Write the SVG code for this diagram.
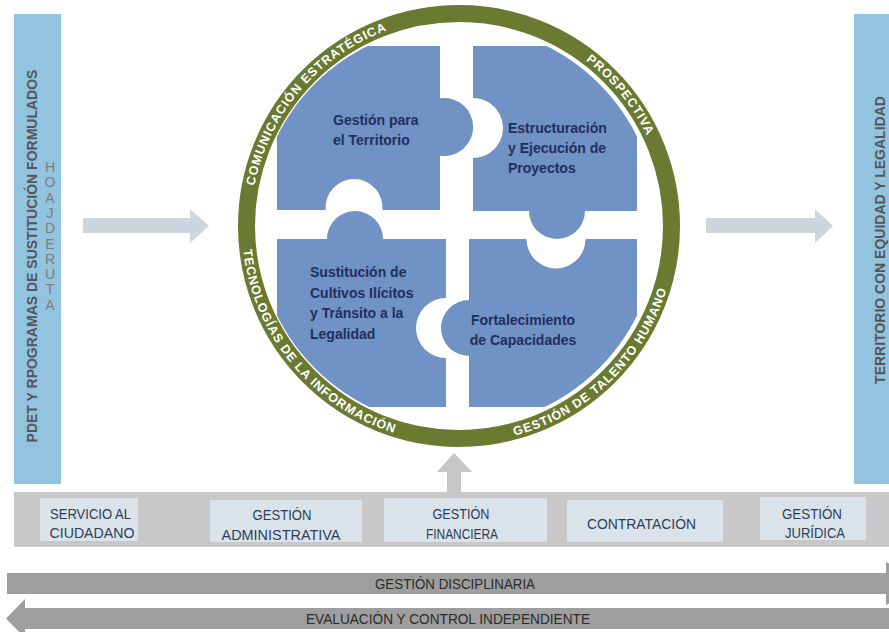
<svg xmlns="http://www.w3.org/2000/svg" width="889" height="632" viewBox="0 0 889 632">
<style>
.bar{fill:#92c4e0}
.bartxt{font-family:"Liberation Sans",Arial,sans-serif;font-weight:bold;font-size:14px;fill:#555}
.hoja{font-family:"Liberation Sans",Arial,sans-serif;font-size:14px;fill:#7d7d7d;text-anchor:middle}
.ring{fill:none;stroke:#6a7a30;stroke-width:17}
.ringtxt{font-family:"Liberation Sans",Arial,sans-serif;font-weight:bold;font-size:12.5px;fill:#fff;letter-spacing:0.9px}
.piece{fill:#7092c4}
.ptxt{font-family:"Liberation Sans",Arial,sans-serif;font-weight:bold;font-size:14px;fill:#1f2f5f}
.band{fill:#c8c8c8}
.box{fill:#dbe3ea}
.btxt{font-family:"Liberation Sans Narrow","Liberation Sans",Arial,sans-serif;font-size:14px;fill:#2c3d58;text-anchor:middle}
.harrow{fill:#cdd6de}
.garrow{fill:#c6c6c6}
.dbar{fill:#9e9e9e}
.dtxt{font-family:"Liberation Sans Narrow","Liberation Sans",Arial,sans-serif;font-size:14px;fill:#2b2b2b;text-anchor:middle}
</style>
<defs>
<clipPath id="disc"><circle cx="457" cy="226" r="201"/></clipPath>
<path id="arcCom" d="M250.5,224.2 A208.5,208.5 0 0 1 424.6,20.4"/>
<path id="arcPro" d="M533.7,31.3 A208.5,208.5 0 0 1 664.9,193.4"/>
<path id="arcTec" d="M243.0,205.2 A217,217 0 0 0 438.2,442.0"/>
<path id="arcGes" d="M474.1,442.5 A217,217 0 0 0 674.8,248.7"/>
</defs>
<rect width="889" height="632" fill="#fff"/>

<g id="left-bar">
<rect class="bar" x="14" y="14" width="47" height="470"/>
<text class="bartxt" transform="translate(37,256) rotate(-90)" text-anchor="middle">PDET Y RPOGRAMAS DE SUSTITUCIÓN FORMULADOS</text>
<text class="hoja" x="50 50 50 50 50 50 50 50 50 50 50 50" y="172 187.3 202.6 217.9 217.9 233.2 248.5 248.5 263.8 279.1 294.4 309.7">HOAJ DE RUTA</text>
</g>

<g id="right-bar">
<rect class="bar" x="854" y="14" width="35" height="470"/>
<text class="bartxt" transform="translate(885,240) rotate(-90)" text-anchor="middle">TERRITORIO CON EQUIDAD Y LEGALIDAD</text>
</g>

<g id="ring">
<circle class="ring" cx="459" cy="226" r="212.5"/>
<text class="ringtxt"><textPath href="#arcCom" startOffset="50%" text-anchor="middle">COMUNICACIÓN ESTRATÉGICA</textPath></text>
<text class="ringtxt"><textPath href="#arcPro" startOffset="50%" text-anchor="middle">PROSPECTIVA</textPath></text>
<text class="ringtxt"><textPath href="#arcTec" startOffset="50%" text-anchor="middle">TECNOLOGÍAS DE LA INFORMACIÓN</textPath></text>
<text class="ringtxt"><textPath href="#arcGes" startOffset="50%" text-anchor="middle">GESTIÓN DE TALENTO HUMANO</textPath></text>
</g>

<g clip-path="url(#disc)">
<g id="piece-territorio">
<path class="piece" d="M277,46 H440 V98.3 A29,29 0 1 1 440,155.7 V210 H382.4 A28.5,28.5 0 1 0 325.6,210 H277 Z"/>
</g>
<g id="piece-proyectos">
<path class="piece" d="M473,46 H637 V211 H585 A28,28 0 1 1 529,211 H473 V158 A30,30 0 1 0 473,98 Z"/>
</g>
<g id="piece-sustitucion">
<path class="piece" d="M277,239 H327 A28,28 0 1 1 383,239 H446 V298 A30,30 0 0 0 446,358 V407 H277 Z"/>
</g>
<g id="piece-capacidades">
<path class="piece" d="M469,239 H526.5 A29.5,29.5 0 1 0 585.5,239 H637 V407 H469 V356 A28,28 0 1 1 469,300 Z"/>
</g>
</g>
<g id="piece-labels">
<text class="ptxt" x="333" y="125">Gestión para</text>
<text class="ptxt" x="333" y="145">el Territorio</text>
<text class="ptxt" x="508" y="133">Estructuración</text>
<text class="ptxt" x="508" y="153">y Ejecución de</text>
<text class="ptxt" x="508" y="173">Proyectos</text>
<text class="ptxt" x="310" y="277">Sustitución de</text>
<text class="ptxt" x="310" y="297.5">Cultivos Ilícitos</text>
<text class="ptxt" x="310" y="318">y Tránsito a la</text>
<text class="ptxt" x="310" y="338.5">Legalidad</text>
<text class="ptxt" x="523" y="325" text-anchor="middle">Fortalecimiento</text>
<text class="ptxt" x="523" y="345" text-anchor="middle">de Capacidades</text>
</g>

<g id="support-band">
<rect class="band" x="14" y="492" width="875" height="55"/>
</g>
<g id="servicio">
<rect class="box" x="40" y="498" width="98" height="43"/>
<text class="btxt" x="90.5" y="518.5" textLength="81" lengthAdjust="spacingAndGlyphs">SERVICIO AL</text>
<text class="btxt" x="92" y="538" textLength="85" lengthAdjust="spacingAndGlyphs">CIUDADANO</text>
</g>
<g id="administrativa">
<rect class="box" x="210" y="500" width="152" height="42"/>
<text class="btxt" x="282" y="520" textLength="59" lengthAdjust="spacingAndGlyphs">GESTIÓN</text>
<text class="btxt" x="281" y="540" textLength="119" lengthAdjust="spacingAndGlyphs">ADMINISTRATIVA</text>
</g>
<g id="financiera">
<rect class="box" x="384" y="498" width="163" height="44"/>
<text class="btxt" x="461" y="518.5" textLength="57" lengthAdjust="spacingAndGlyphs">GESTIÓN</text>
<text class="btxt" x="462" y="538.5" textLength="72" lengthAdjust="spacingAndGlyphs">FINANCIERA</text>
</g>
<g id="contratacion">
<rect class="box" x="567" y="500" width="156" height="42"/>
<text class="btxt" x="641.5" y="529" textLength="109" lengthAdjust="spacingAndGlyphs">CONTRATACIÓN</text>
</g>
<g id="juridica">
<rect class="box" x="760" y="497" width="106" height="43"/>
<text class="btxt" x="812" y="518.5" textLength="60" lengthAdjust="spacingAndGlyphs">GESTIÓN</text>
<text class="btxt" x="815" y="538" textLength="60" lengthAdjust="spacingAndGlyphs">JURÍDICA</text>
</g>

<g id="connectors">
<polygon class="harrow" points="83,218 190,218 190,209 209,226 190,243 190,233 83,233"/>
<polygon class="harrow" points="706,218 815,218 815,209 833,226 815,243 815,233 706,233"/>
<polygon class="garrow" points="447,492 447,472 437,472 454,453 472,472 461,472 461,492"/>
</g>

<g id="disciplinaria">
<rect class="dbar" x="7" y="573" width="880" height="21"/>
<polygon class="dbar" points="886,562 930,583.5 886,605"/>
<text class="dtxt" x="455" y="589" textLength="160" lengthAdjust="spacingAndGlyphs">GESTIÓN DISCIPLINARIA</text>
</g>
<g id="evaluacion">
<rect class="dbar" x="25" y="608" width="864" height="21"/>
<polygon class="dbar" points="25,599 6,618.5 25,638"/>
<text class="dtxt" x="448" y="623.5" textLength="284" lengthAdjust="spacingAndGlyphs">EVALUACIÓN Y CONTROL INDEPENDIENTE</text>
</g>
</svg>
